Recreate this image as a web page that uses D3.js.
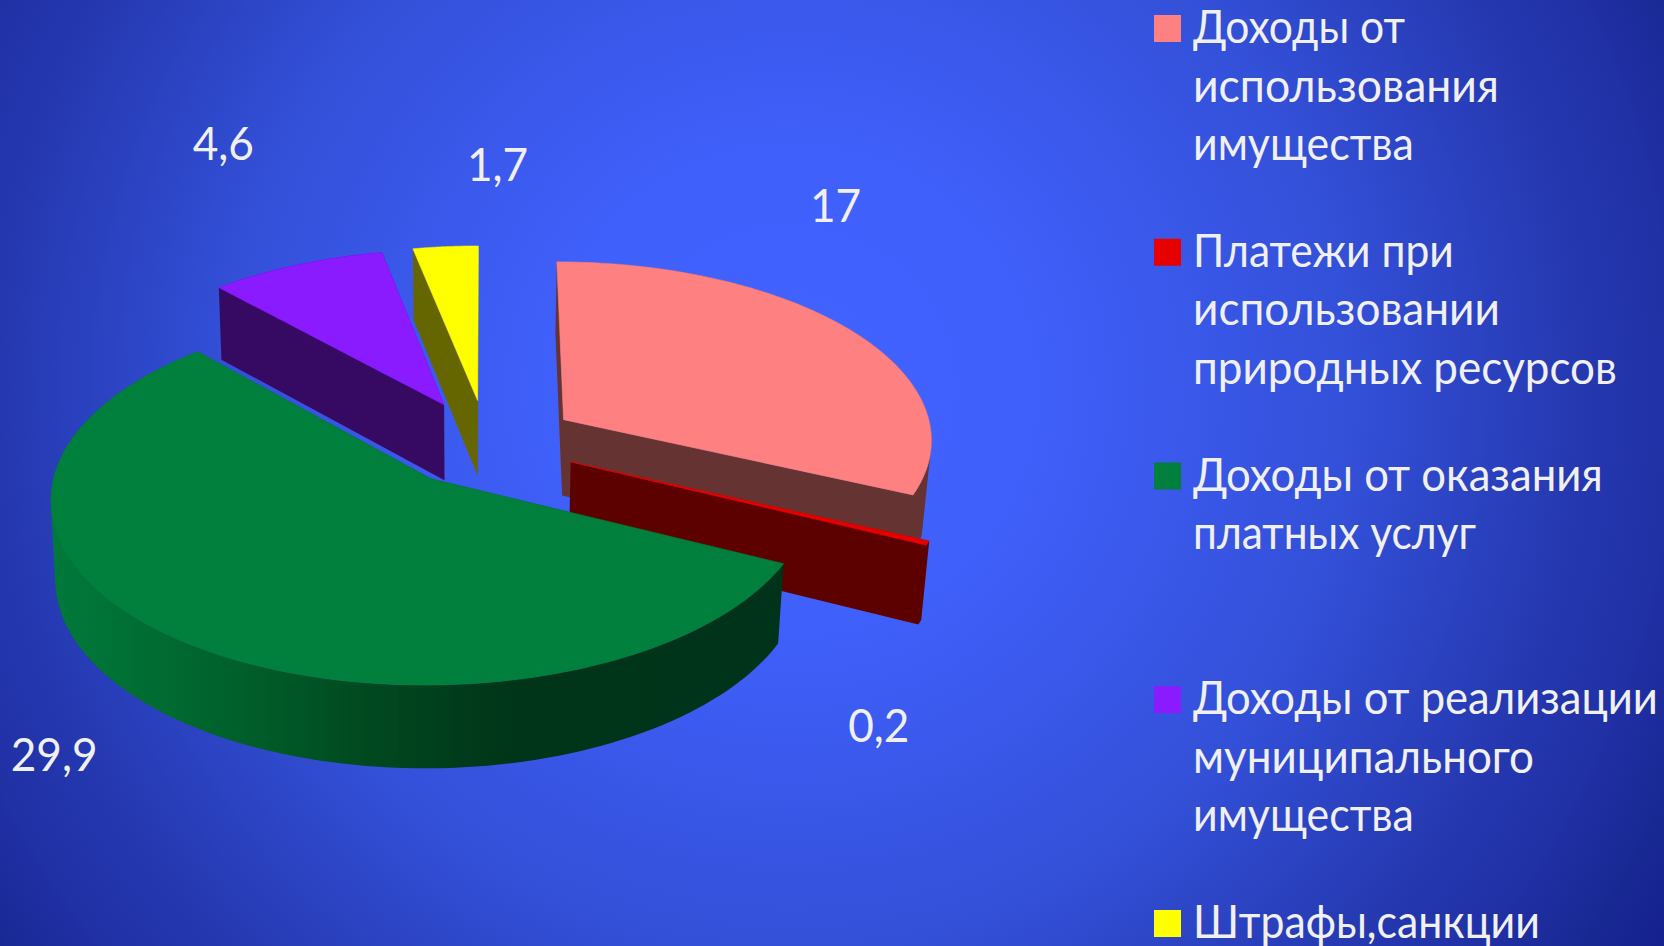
<!DOCTYPE html>
<html lang="ru"><head><meta charset="utf-8">
<script src="https://cdn.jsdelivr.net/npm/d3@7/dist/d3.min.js"></script>
<style>html,body{margin:0;padding:0;background:#14208c;overflow:hidden}svg{display:block}text{font-family:Lato,"Open Sans","Noto Sans",sans-serif}</style>
</head><body><svg id="c" width="1664" height="946"></svg>
<script>
// data
const categories=["Доходы от использования имущества","Платежи при использовании природных ресурсов","Доходы от оказания платных услуг","Доходы от реализации муниципального имущества","Штрафы,санкции"];
const values=[17,0.2,29.9,4.6,1.7];
const valueLabels=["17","0,2","29,9","4,6","1,7"];
const legendLines=[["Доходы от","использования","имущества"],["Платежи при","использовании","природных ресурсов"],["Доходы от оказания","платных услуг"],["Доходы от реализации","муниципального","имущества"],["Штрафы,санкции"]];
const topColors=["#ff8080","#e60000","#00803c","#8a1aff","#ffff00"];
const wallColors=["#663333","#5c0000",null,"#360a63","#666600"];
// layout helpers (pixel nudges and fitted text widths, not data)
const labelNudge=[[-16,-124],[-49,184],[-126,116],[-73,-120],[52,-81]];
const sliceShift=[1.5,1,0,-2,0];
const legendWidths=[[212,306,221],[261,307,424],[410,283],[465,341,221],[347]];

const W=1664,H=946,svg=d3.select("#c");
const defs=svg.append("defs");
const bg=defs.append("radialGradient").attr("id","bg").attr("gradientUnits","userSpaceOnUse")
 .attr("cx",790).attr("cy",390).attr("r",1040);
[[0,"#4163ff"],[0.22,"#4060fc"],[0.38,"#3a58ea"],[0.54,"#3350d8"],[0.76,"#2538b0"],[0.85,"#2030a5"],[0.93,"#182893"],[1,"#14208f"]].forEach(s=>bg.append("stop").attr("offset",s[0]).attr("stop-color",s[1]));
const gw=defs.append("linearGradient").attr("id","greenWall").attr("gradientUnits","userSpaceOnUse").attr("x1",50).attr("x2",790).attr("y1",0).attr("y2",0);
[[0,"#007a3a"],[0.14,"#006c32"],[0.3,"#005a28"],[0.42,"#004a20"],[0.62,"#003519"],[1,"#00331a"]].forEach(s=>gw.append("stop").attr("offset",s[0]).attr("stop-color",s[1]));
svg.append("rect").attr("width",W).attr("height",H).attr("fill","url(#bg)");

// projection of the tilted pie plane
const cx=486.5,cy=443,ax=370,by=178,persp=-0.10,explode=0.246,textSquash=0.96;
function project(u,v){const w=1+persp*v;return [cx+ax*u/w,cy+by*v/w];}
function extrude(p){const k=p[0]<480?0.010:0.018;return [p[0]-(p[0]-480)*k,p[1]+76.5+(p[1]-443)*0.028];}
const pie=d3.pie().sort(null).startAngle(0).endAngle(2*Math.PI)(values);
const line=d3.line();
const order=[3,4,0,1,2];
const g=svg.append("g");
function band(seg){ // one consistently wound quad per segment, so folds of the arc do not cancel
  let d="";
  for(let k=0;k<seg.length-1;k++){
    let q=[seg[k],seg[k+1],extrude(seg[k+1]),extrude(seg[k])];
    if(d3.polygonArea(q)<0) q.reverse();
    d+=line(q)+"Z";
  }
  return d;
}
function putText(x,y,size,anchor,t,fit){
  const el=svg.append("text").attr("text-anchor",anchor).attr("font-size",size).attr("fill","#f0f0f2").text(t);
  const sx=fit?fit/el.node().getComputedTextLength():textSquash;
  el.attr("transform",`translate(${x},${y}) scale(${sx},1)`);
}
order.forEach(i=>{
  const s=pie[i],mid=(s.startAngle+s.endAngle)/2;
  const ox=Math.sin(mid)*explode,oy=-Math.cos(mid)*explode;
  const pt=(a,r)=>{const p=project(ox+r*Math.sin(a),oy-r*Math.cos(a));return [p[0]+sliceShift[i],p[1]];};
  const arc=d3.range(0,121).map(k=>pt(s.startAngle+(s.endAngle-s.startAngle)*k/120,1));
  const apex=pt(0,0);
  const wall=wallColors[i]||"url(#greenWall)";
  g.append("path").attr("d",[[apex,arc[0]],[apex,arc[120]],arc].map(band).join("")).attr("fill",wall);
  g.append("path").attr("d",line([apex].concat(arc))+"Z").attr("fill",topColors[i]).attr("stroke",topColors[i]).attr("stroke-width",0.6);
  const q=pt(mid,1);
  putText(q[0]+labelNudge[i][0],q[1]+labelNudge[i][1]+15,46,"middle",valueLabels[i]);
});

// legend
const itemY=d3.scalePoint().domain(d3.range(5)).range([42,937]);
categories.forEach((c,i)=>{
  const y0=itemY(i);
  svg.append("rect").attr("x",1154).attr("y",y0-27).attr("width",27).attr("height",27).attr("fill",topColors[i]);
  legendLines[i].forEach((t,j)=>putText(1193,y0+1+j*58.6,46,"start",t,legendWidths[i][j]));
});
</script></body></html>
